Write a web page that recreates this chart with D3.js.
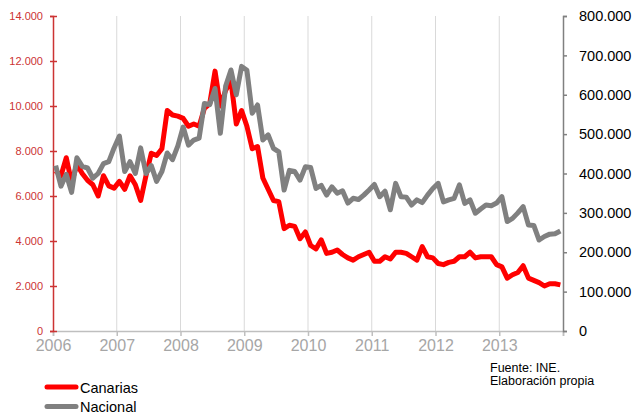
<!DOCTYPE html>
<html>
<head>
<meta charset="utf-8">
<script src="https://cdn.jsdelivr.net/npm/d3@7"></script>
<style>
  body { margin: 0; background: #fff; }
  svg { font-family: "Liberation Sans", Arial, sans-serif; }
</style>
</head>
<body>
<svg id="chart" width="633" height="414"></svg>
<script>
// Datos mensuales, enero 2006 - diciembre 2013
var years = [2006, 2007, 2008, 2009, 2010, 2011, 2012, 2013];

var canarias = [
  7120, 6900, 7700, 6600, 7400, 7000, 6700, 6500, 6000, 6900, 6450, 6350,
  6650, 6300, 6900, 6500, 5800, 6900, 7900, 7800, 8100, 9800, 9600, 9550,
  9450, 9100, 9200, 9100, 9900, 10100, 11550, 10000, 10700, 11100, 9200, 9800,
  9100, 8100, 8200, 6800, 6300, 5800, 5750, 4550, 4700, 4650, 4100, 4400,
  3800, 3650, 4050, 3450, 3500, 3600, 3400, 3250, 3150, 3300, 3400, 3500,
  3100, 3100, 3300, 3200, 3500, 3500, 3450, 3300, 3150, 3750, 3300, 3250,
  3000, 2950, 3050, 3100, 3300, 3300, 3500, 3250, 3300, 3300, 3300, 2950,
  2850, 2350, 2500, 2600, 2900, 2350, 2250, 2150, 2000, 2100, 2100, 2050
];

var nacional = [
  420000, 368000, 398000, 352000, 440000, 418000, 414000, 388000, 400000, 425000, 430000, 465000,
  495000, 405000, 430000, 400000, 465000, 400000, 420000, 380000, 405000, 452000, 435000, 470000,
  518000, 472000, 485000, 490000, 578000, 575000, 616000, 502000, 622000, 663000, 600000, 672000,
  662000, 553000, 574000, 485000, 498000, 464000, 455000, 358000, 408000, 405000, 383000, 417000,
  415000, 362000, 370000, 345000, 366000, 350000, 356000, 325000, 337000, 334000, 345000, 358000,
  372000, 341000, 355000, 308000, 375000, 341000, 340000, 320000, 333000, 326000, 345000, 362000,
  375000, 328000, 333000, 337000, 371000, 324000, 333000, 299000, 310000, 320000, 318000, 325000,
  341000, 278000, 286000, 300000, 316000, 269000, 268000, 231000, 240000, 246000, 247000, 254000
];

var ticksLeft = [0, 2000, 4000, 6000, 8000, 10000, 12000, 14000];
var ticksRight = [0, 100000, 200000, 300000, 400000, 500000, 600000, 700000, 800000];
var fuente = ["Fuente: INE.", "Elaboración propia"];

var red = "#ff0000", grey = "#808080", axisRed = "#cc3333";

var es = d3.formatLocale({ decimal: ",", thousands: ".", grouping: [3], currency: ["", "€"] });
var fmt = es.format(",d");

var svg = d3.select("#chart");
var pLeft = 53, pRight = 563, pTop = 16, pBottom = 331;

// Escala x por meses (puntos en el centro de cada mes)
var x = d3.scaleLinear().domain([0, years.length * 12]).range([pLeft, pRight]);
var yL = d3.scaleLinear().domain([0, 14000]).range([pBottom, pTop]);
var yR = d3.scaleLinear().domain([0, 800000]).range([pBottom, pTop]);

// Lineas verticales de los años
svg.append("g").selectAll("line")
  .data(years.slice(1))
  .enter().append("line")
    .attr("x1", function(d, i) { return x((i + 1) * 12); })
    .attr("x2", function(d, i) { return x((i + 1) * 12); })
    .attr("y1", pTop)
    .attr("y2", pBottom)
    .style("stroke", "#d9d9d9")
    .style("stroke-width", 1);

// Eje x
var xAxis = d3.axisBottom(x)
  .tickValues(d3.range(0, years.length * 12 + 1, 12))
  .tickSize(5)
  .tickFormat(function(d) { var yr = years[d / 12]; return yr === undefined ? "" : yr; });

var gx = svg.append("g")
  .attr("transform", "translate(0," + pBottom + ")")
  .call(xAxis);
gx.select(".domain").style("stroke", "#bfbfbf").style("stroke-width", 1.5);
gx.selectAll(".tick line").style("stroke", "#bfbfbf").style("stroke-width", 1.5);
gx.selectAll(".tick text")
  .attr("y", 9)
  .attr("dy", "0.71em")
  .style("fill", "#a6a6a6")
  .style("font-size", "16px")
  .style("font-family", "Liberation Sans, Arial, sans-serif");

// Eje izquierdo (Canarias)
var gl = svg.append("g")
  .attr("transform", "translate(" + pLeft + ",0)")
  .call(d3.axisLeft(yL).tickValues(ticksLeft).tickSize(3).tickFormat(fmt));
gl.select(".domain").style("stroke", axisRed).style("stroke-width", 1.5);
gl.selectAll(".tick line").attr("x2", 4).attr("x1", -3).style("stroke", axisRed).style("stroke-width", 1.5);
gl.selectAll(".tick text")
  .attr("x", -10)
  .style("fill", axisRed)
  .style("font-size", "11px")
  .style("font-family", "Liberation Sans, Arial, sans-serif");

// Eje derecho (Nacional)
var gr = svg.append("g")
  .attr("transform", "translate(" + pRight + ",0)")
  .call(d3.axisRight(yR).tickValues(ticksRight).tickSize(4).tickFormat(fmt));
gr.select(".domain").style("stroke", grey).style("stroke-width", 1.5);
gr.selectAll(".tick line").style("stroke", grey).style("stroke-width", 1.5);
gr.selectAll(".tick text")
  .attr("x", 16)
  .style("fill", "#000")
  .style("font-size", "14.5px")
  .style("font-family", "Liberation Sans, Arial, sans-serif");

// Series
var lineL = d3.line()
  .x(function(d, i) { return x(i + 0.5); })
  .y(function(d) { return yL(d); });
var lineR = d3.line()
  .x(function(d, i) { return x(i + 0.5); })
  .y(function(d) { return yR(d); });

svg.append("path")
  .datum(canarias)
  .attr("d", lineL)
  .style("fill", "none")
  .style("stroke", red)
  .style("stroke-width", 5)
  .style("stroke-linejoin", "round");

svg.append("path")
  .datum(nacional)
  .attr("d", lineR)
  .style("fill", "none")
  .style("stroke", grey)
  .style("stroke-width", 5)
  .style("stroke-linejoin", "round");

// Leyenda
var legend = [{ name: "Canarias", color: red }, { name: "Nacional", color: grey }];
var lg = svg.append("g").selectAll("g")
  .data(legend)
  .enter().append("g")
    .attr("transform", function(d, i) { return "translate(45," + (387 + i * 19.5) + ")"; });
lg.append("line")
  .attr("x1", 2).attr("x2", 31)
  .style("stroke", function(d) { return d.color; })
  .style("stroke-width", 5)
  .style("stroke-linecap", "round");
lg.append("text")
  .attr("x", 35)
  .attr("y", 5.5)
  .style("font-size", "14.5px")
  .style("fill", "#000")
  .text(function(d) { return d.name; });

// Fuente
svg.append("g").selectAll("text")
  .data(fuente)
  .enter().append("text")
    .attr("x", 490)
    .attr("y", function(d, i) { return 372 + i * 13; })
    .style("font-size", "12.5px")
    .style("fill", "#000")
    .text(function(d) { return d; });
</script>
</body>
</html>
